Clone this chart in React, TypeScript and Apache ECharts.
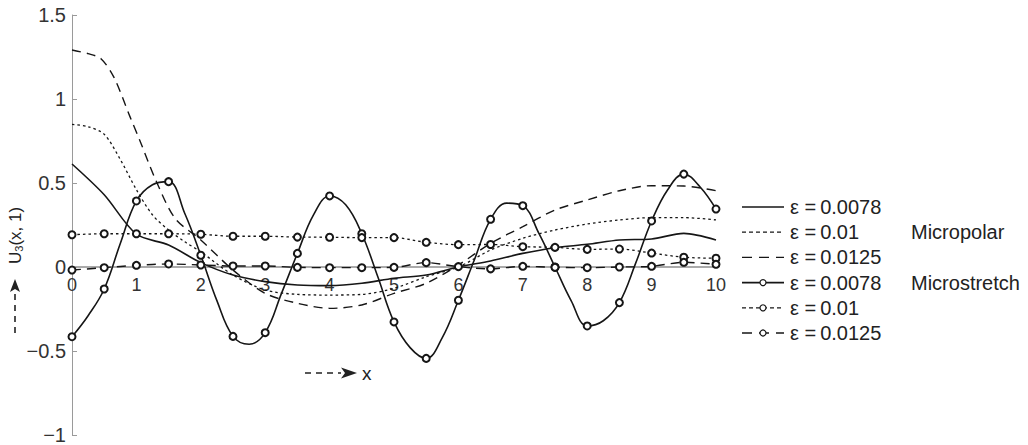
import React, { useEffect, useRef } from "react";
import * as echarts from "echarts";

// ---------- data ----------
const legendNames = ["mp1", "mp2", "mp3", "ms1", "ms2", "ms3"];
const legendLabels = [
  "ε =\u20090.0078",
  "ε =\u20090.01",
  "ε =\u20090.0125",
  "ε =\u20090.0078",
  "ε =\u20090.01",
  "ε =\u20090.0125",
];
const groupLabels = ["Micropolar", "Microstretch"];
const yAxisTitle = "U";
const yAxisTitleSub = "3";
const yAxisTitleRest = "(x, 1)";
const xAxisTitle = "x";

// Micropolar, eps = 0.0078 (solid)
const mp1X = [0, 0.5, 1, 1.5, 2, 2.5, 3, 3.5, 4, 4.5, 5, 5.5, 6, 6.5, 7, 7.5, 8, 8.5, 9, 9.5, 10];
const mp1Y = [0.613, 0.43, 0.195, 0.131, 0.026, -0.048, -0.087, -0.107, -0.111, -0.097, -0.067, -0.048, 0.0, 0.036, 0.081, 0.115, 0.135, 0.161, 0.167, 0.2, 0.161];

// Micropolar, eps = 0.01 (dotted)
const mp2X = [0, 0.25, 0.5, 0.75, 1, 1.25, 1.5, 1.75, 2, 2.5, 3, 3.5, 4, 4.5, 5, 5.5, 6, 6.5, 7, 7.5, 8, 8.5, 9, 9.5, 10];
const mp2Y = [0.849, 0.835, 0.79, 0.64, 0.46, 0.31, 0.22, 0.15, 0.09, -0.048, -0.137, -0.163, -0.167, -0.163, -0.127, -0.058, 0.0, 0.101, 0.171, 0.22, 0.256, 0.28, 0.294, 0.294, 0.28];

// Micropolar, eps = 0.0125 (dashed)
const mp3X = [0, 0.25, 0.45, 0.65, 0.9, 1.05, 1.3, 1.6, 2, 2.5, 3, 3.5, 4, 4.5, 5, 5.5, 6, 6.5, 7, 7.5, 8, 8.5, 9, 9.5, 10];
const mp3Y = [1.292, 1.27, 1.24, 1.13, 0.895, 0.756, 0.518, 0.29, 0.161, -0.018, -0.157, -0.216, -0.246, -0.226, -0.157, -0.097, 0.012, 0.141, 0.24, 0.339, 0.399, 0.454, 0.484, 0.482, 0.454];

// Microstretch, eps = 0.0078 (solid with circles at every 0.5)
const ms1X = [0, 0.25, 0.5, 0.75, 1, 1.25, 1.5, 1.75, 2, 2.25, 2.5, 2.75, 3, 3.25, 3.5, 3.75, 4, 4.25, 4.5, 4.75, 5, 5.25, 5.5, 5.75, 6, 6.25, 6.5, 6.75, 7, 7.25, 7.5, 7.75, 8, 8.25, 8.5, 8.75, 9, 9.25, 9.5, 9.75, 10];
const ms1Y = [-0.415, -0.29, -0.131, 0.14, 0.393, 0.49, 0.508, 0.32, 0.07, -0.2, -0.413, -0.46, -0.391, -0.16, 0.081, 0.31, 0.423, 0.37, 0.198, -0.06, -0.327, -0.48, -0.544, -0.42, -0.198, 0.045, 0.284, 0.38, 0.365, 0.2, 0.0, -0.2, -0.351, -0.32, -0.212, 0.02, 0.274, 0.46, 0.553, 0.478, 0.345];
const ms1Marked = ms1X.map((x) => Number.isInteger(x * 2));

// Microstretch, eps = 0.01 (dotted with circles)
const msX = [0, 0.5, 1, 1.5, 2, 2.5, 3, 3.5, 4, 4.5, 5, 5.5, 6, 6.5, 7, 7.5, 8, 8.5, 9, 9.5, 10];
const ms2Y = [0.192, 0.198, 0.198, 0.198, 0.195, 0.183, 0.183, 0.178, 0.177, 0.175, 0.175, 0.147, 0.133, 0.134, 0.121, 0.117, 0.105, 0.107, 0.083, 0.058, 0.052];

// Microstretch, eps = 0.0125 (dashed with circles)
const ms3Y = [-0.018, -0.004, 0.01, 0.018, 0.012, 0.006, 0.006, -0.002, -0.004, -0.004, -0.002, 0.026, 0.002, -0.011, 0.004, -0.002, -0.004, 0.0, 0.004, 0.028, 0.016];

// ---------- styles ----------
const FONT = "'Liberation Sans', Arial, Helvetica, sans-serif";
const INK = "#161616";
const DOT: number[] = [2.5, 3];
const DASH: number[] = [9, 6];
const STYLES = [
  { dash: "solid", width: 1.6, marker: false },
  { dash: DOT, width: 1.3, marker: false },
  { dash: DASH, width: 1.4, marker: false },
  { dash: "solid", width: 1.6, marker: true },
  { dash: DOT, width: 1.3, marker: true },
  { dash: DASH, width: 1.4, marker: true },
];
const LEGEND_DASH: any[] = ["solid", [4, 3], [10, 7], "solid", [4, 3], [10, 7]];

const zip = (xs: number[], ys: number[]) => xs.map((x, i) => [x, ys[i]]);

export default function App() {
  const ref = useRef<HTMLDivElement>(null);

  useEffect(() => {
    if (!ref.current) return;
    const chart = echarts.init(ref.current, undefined, { renderer: "svg" });

    const lineSeries = (idx: number, data: any[], smooth: number) => ({
      name: legendNames[idx],
      type: "line",
      data,
      smooth,
      symbol: STYLES[idx].marker ? "emptyCircle" : "none",
      symbolSize: 7,
      showAllSymbol: true,
      lineStyle: { color: INK, width: STYLES[idx].width, type: STYLES[idx].dash },
      itemStyle: { color: INK, borderColor: INK, borderWidth: 1.2 },
      emphasis: { disabled: true },
    });

    // custom legend
    const legendGraphics: any[] = [];
    legendNames.forEach((_, i) => {
      const cy = 207 + i * 25.2;
      const d = LEGEND_DASH[i];
      legendGraphics.push({
        type: "line",
        shape: { x1: 742, y1: cy, x2: 784, y2: cy },
        style: { stroke: INK, lineWidth: STYLES[i].width, lineDash: d === "solid" ? null : d },
      });
      if (STYLES[i].marker) {
        legendGraphics.push({
          type: "circle",
          shape: { cx: 763, cy, r: 3 },
          style: { fill: "#fff", stroke: INK, lineWidth: 1.2 },
        });
      }
      legendGraphics.push({
        type: "text",
        x: 790,
        y: cy,
        style: { text: legendLabels[i], fontSize: 20, fill: "#222", fontFamily: FONT, verticalAlign: "middle", align: "left" },
      });
    });

    const option: any = {
      animation: false,
      backgroundColor: "#ffffff",
      grid: { left: 72, top: 15, width: 644, height: 420, containLabel: false, outerBoundsMode: "none" },
      xAxis: {
        type: "value",
        min: 0,
        max: 10,
        interval: 1,
        offset: -168,
        axisLine: { onZero: false, lineStyle: { color: "#aaaaaa", width: 2 } },
        axisTick: { show: true, inside: true, length: 3, lineStyle: { color: "#bbbbbb" } },
        axisLabel: { fontSize: 18, color: "#333", margin: 9, fontFamily: FONT },
        splitLine: { show: false },
      },
      yAxis: {
        type: "value",
        min: -1,
        max: 1.5,
        interval: 0.5,
        axisLine: { show: true, onZero: false, lineStyle: { color: "#9a9a9a", width: 1 } },
        axisTick: { show: true, inside: true, length: 5, lineStyle: { color: "#9a9a9a" } },
        axisLabel: {
          fontSize: 20,
          color: "#333",
          margin: 6,
          fontFamily: FONT,
          formatter: (v: number) => String(v).replace("-", "\u2212"),
        },
        splitLine: { show: false },
      },
      series: [
        lineSeries(0, zip(mp1X, mp1Y), 0.3),
        lineSeries(1, zip(mp2X, mp2Y), 0.3),
        lineSeries(2, zip(mp3X, mp3Y), 0.3),
        lineSeries(
          3,
          ms1X.map((x, i) => (ms1Marked[i] ? { value: [x, ms1Y[i]] } : { value: [x, ms1Y[i]], symbol: "none" })),
          0.4
        ),
        lineSeries(4, zip(msX, ms2Y), 0.3),
        lineSeries(5, zip(msX, ms3Y), 0.3),
      ],
      graphic: [
        ...legendGraphics,
        {
          type: "text",
          x: 911,
          y: 207 + 25.2,
          style: { text: groupLabels[0], fontSize: 20, fill: "#222", fontFamily: FONT, verticalAlign: "middle" },
        },
        {
          type: "text",
          x: 911,
          y: 207 + 3 * 25.2,
          style: { text: groupLabels[1], fontSize: 20, fill: "#222", fontFamily: FONT, verticalAlign: "middle" },
        },
        // x axis title
        {
          type: "group",
          children: [
            {
              type: "line",
              shape: { x1: 305, y1: 373, x2: 341, y2: 373 },
              style: { stroke: "#222", lineWidth: 1.6, lineDash: [6, 5] },
            },
            {
              type: "polygon",
              shape: { points: [[341, 367.5], [357, 373], [341, 378.5], [345, 373]] },
              style: { fill: "#222" },
            },
            {
              type: "text",
              x: 362,
              y: 373,
              style: { text: xAxisTitle, fontSize: 19, fill: "#222", fontFamily: FONT, verticalAlign: "middle", align: "left" },
            },
          ],
        },
        // y axis title (rotated)
        {
          type: "group",
          x: 15,
          y: 264,
          rotation: Math.PI / 2,
          children: [
            {
              type: "line",
              shape: { x1: -69, y1: 0, x2: -28, y2: 0 },
              style: { stroke: "#222", lineWidth: 1.6, lineDash: [6, 5] },
            },
            {
              type: "polygon",
              shape: { points: [[-28, -5], [-15, 0], [-28, 5], [-25, 0]] },
              style: { fill: "#222" },
            },
            {
              type: "text",
              x: 0,
              y: 0,
              style: {
                text: `{a|${yAxisTitle}}{s|${yAxisTitleSub}}{a|${yAxisTitleRest}}`,
                verticalAlign: "middle",
                align: "left",
                rich: {
                  a: { fontSize: 17, fill: "#222", fontFamily: FONT },
                  s: { fontSize: 11, fill: "#222", fontFamily: FONT, padding: [8, 0, 0, 0] },
                },
              },
            },
          ],
        },
      ],
    };

    chart.setOption(option);
    return () => chart.dispose();
  }, []);

  return (
    <div
      ref={ref}
      style={{ position: "fixed", left: 0, top: 0, width: 1028, height: 445, background: "#fff" }}
    />
  );
}
